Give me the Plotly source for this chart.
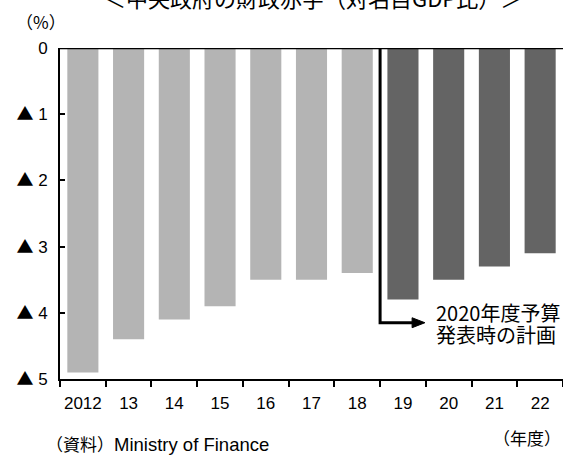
import plotly.graph_objects as go

# Fiscal years and central government deficit (% of nominal GDP, shown as negatives)
years = ["2012", "13", "14", "15", "16", "17", "18", "19", "20", "21", "22"]
deficit = [-4.9, -4.4, -4.1, -3.9, -3.5, -3.5, -3.4, -3.8, -3.5, -3.3, -3.1]
is_plan = [False] * 7 + [True] * 4

y_ticks = [0, -1, -2, -3, -4, -5]
y_tick_text = ["0", "▲ 1", "▲ 2", "▲ 3", "▲ 4", "▲ 5"]

plan_note = ["2020年度予算", "発表時の計画"]

LATIN = "Liberation Sans, Noto Sans CJK JP, sans-serif"
CJK = "Noto Sans CJK JP, sans-serif"
colors = ["#646464" if p else "#b4b4b4" for p in is_plan]


def tri(label):
    # full-width triangle glyph from the CJK face, digits from the Latin face
    if label.startswith("▲"):
        return f"<span style='font-family:{CJK}'>▲</span>" + label[1:]
    return label


fig = go.Figure(go.Bar(x=years, y=deficit, marker=dict(color=colors, line=dict(width=0)),
                       width=0.68))

fig.update_layout(
    width=563, height=455,
    margin=dict(l=60, r=0, t=48, b=76),
    plot_bgcolor="white", paper_bgcolor="white",
    showlegend=False,
    font=dict(family=LATIN, size=17, color="black"),
    xaxis=dict(type="category", range=[-0.5, 10.5], showline=True, linecolor="black", linewidth=2,
               ticks="outside", ticklen=6, tickwidth=1.5, tickcolor="black",
               tickson="boundaries", showgrid=False, zeroline=False, tickangle=0,
               ticklabelstandoff=8, tickfont=dict(size=17)),
    yaxis=dict(range=[-5, 0], tickvals=y_ticks, ticktext=[tri(t) for t in y_tick_text],
               showline=True, linecolor="black", linewidth=2, ticks="inside", ticklen=5,
               tickwidth=1.5, tickcolor="black", showgrid=False, zeroline=False,
               ticklabelstandoff=7, tickfont=dict(size=17)),
)

# zero line along the top
fig.add_shape(type="line", xref="paper", yref="y", x0=0, x1=1, y0=0, y1=0,
              line=dict(color="black", width=2.5))

# elbow arrow separating actuals from the budget plan
fig.add_shape(type="path", xref="x", yref="y",
              path="M 6.5 0 L 6.5 -4.15 L 7.24 -4.15", line=dict(color="black", width=3))
fig.add_shape(type="path", xref="x", yref="y",
              path="M 7.2 -4.075 L 7.48 -4.15 L 7.2 -4.225 Z",
              line=dict(color="black", width=1), fillcolor="black")
for i, line in enumerate(plan_note):
    fig.add_annotation(x=7.68, y=-3.99 - 0.34 * i, xref="x", yref="y", xanchor="left",
                       yanchor="middle", align="left", showarrow=False, text=line,
                       font=dict(size=20, family=CJK))


def px_x(px):
    # pixel column -> paper fraction of the plot area (left 60, width 503)
    return (px - 60) / 503


def py(px):
    # pixel row -> paper fraction of the plot area (top 48, bottom 379)
    return (379 - px) / 331


fig.add_annotation(x=px_x(313), y=py(-3), xref="paper", yref="paper",
                   xanchor="center", yanchor="middle", showarrow=False,
                   text="＜中央政府の財政赤字（対名目GDP比）＞", font=dict(size=22, family=CJK))
fig.add_annotation(x=px_x(14), y=py(22), xref="paper", yref="paper", xanchor="left",
                   yanchor="middle", showarrow=False, text="（%）", font=dict(size=17, family=CJK))
fig.add_annotation(x=1, y=py(437), xref="paper", yref="paper", xanchor="right",
                   yanchor="middle", showarrow=False, text="（年度）", font=dict(size=17, family=CJK))
fig.add_annotation(x=px_x(44), y=py(443), xref="paper", yref="paper", xanchor="left",
                   yanchor="middle", showarrow=False,
                   text="（資料）<span style='font-family:Liberation Sans;font-size:18.5px'>"
                        "Ministry of Finance</span>",
                   font=dict(size=17, family=CJK))

fig.write_html("out.html")
